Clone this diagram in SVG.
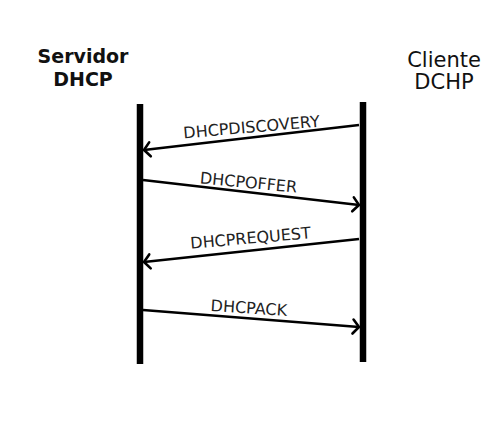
<svg xmlns="http://www.w3.org/2000/svg" width="503" height="421" viewBox="0 0 503 421">
<style>
.hdr{font-family:"DejaVu Sans",sans-serif;font-size:21px;fill:#111;text-anchor:middle}
.b{font-weight:bold;font-size:19px}
.lbl{font-family:"DejaVu Sans",sans-serif;font-size:16px;fill:#222;text-anchor:middle}
.life{stroke:#000;stroke-width:6.5}
.msg{stroke:#000;stroke-width:2.6;fill:none;marker-end:url(#ah)}
</style>
<defs>
<marker id="ah" markerUnits="userSpaceOnUse" viewBox="-10 -10 12 20" refX="0" refY="0" markerWidth="12" markerHeight="20" orient="auto">
<path d="M -6 -7 L 0 0 L -6 7" fill="none" stroke="#000" stroke-width="2.6" stroke-linecap="round" stroke-linejoin="round"/>
</marker>
</defs>
<rect width="503" height="421" fill="#fff"/>
<g id="servidor">
<text class="hdr b" x="83" y="63">Servidor</text>
<text class="hdr b" x="83" y="86">DHCP</text>
<line class="life" x1="140" y1="104" x2="140" y2="364"/>
</g>
<g id="cliente">
<text class="hdr" x="444" y="67">Cliente</text>
<text class="hdr" x="444" y="89">DCHP</text>
<line class="life" x1="363" y1="102" x2="363" y2="362"/>
</g>
<g id="connectors">
<line class="msg" x1="359" y1="125" x2="144" y2="150"/>
<text class="lbl" transform="translate(252,132.5) rotate(-5)">DHCPDISCOVERY</text>
<line class="msg" x1="143" y1="180" x2="359" y2="205"/>
<text class="lbl" transform="translate(248,188) rotate(5.5)">DHCPOFFER</text>
<line class="msg" x1="359" y1="239" x2="144" y2="262"/>
<text class="lbl" transform="translate(251,243.5) rotate(-5)">DHCPREQUEST</text>
<line class="msg" x1="143" y1="310" x2="359" y2="327"/>
<text class="lbl" transform="translate(248.5,313.5) rotate(3.7)">DHCPACK</text>
</g>
</svg>
